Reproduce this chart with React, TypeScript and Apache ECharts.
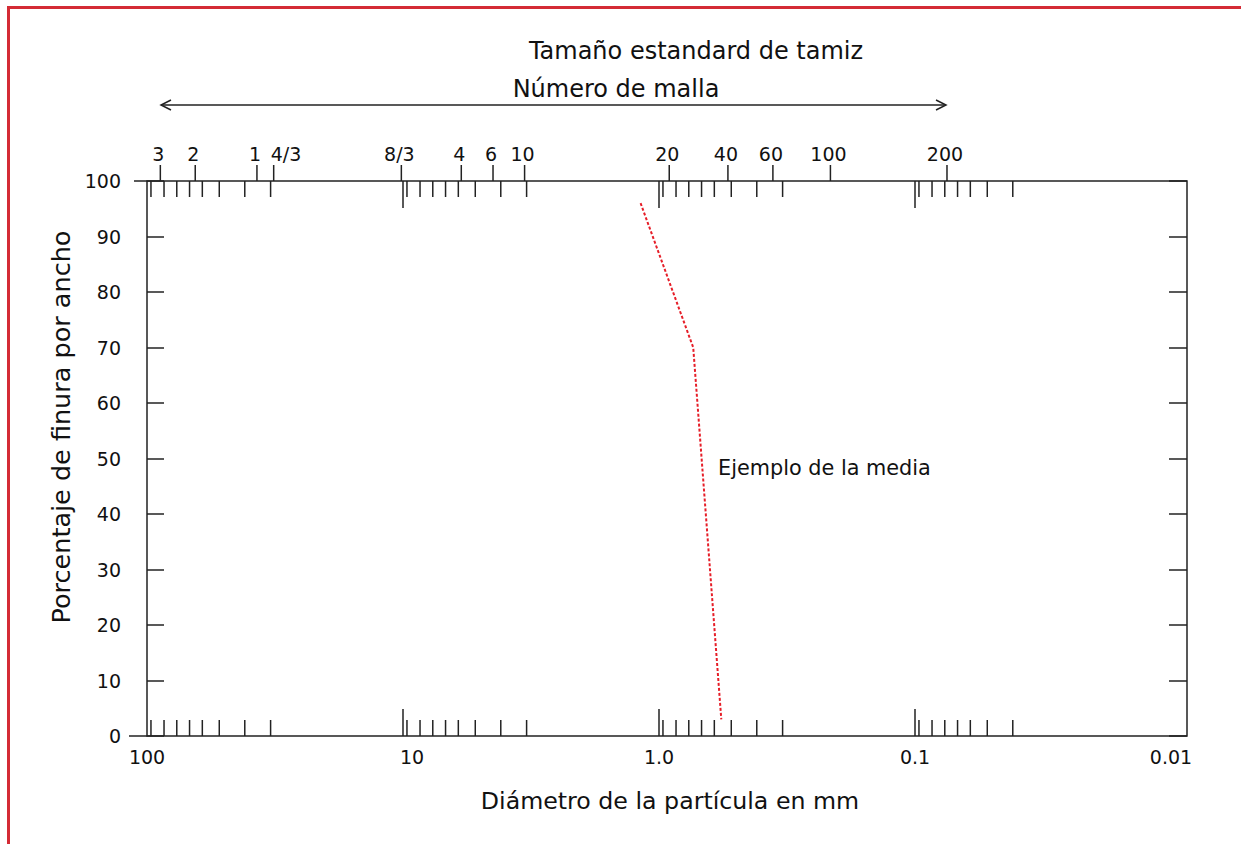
import React, { useEffect, useRef } from 'react';
import * as echarts from 'echarts';

// ---- data ----
const xMinDiameter = 0.00866; // right edge of the plotting frame (mm)
const xMaxDiameter = 100;     // left edge of the plotting frame (mm)

const decadeValues = [100, 10, 1, 0.1, 0.01];
const decadeLabels = ['100', '10', '1.0', '0.1', '0.01'];
const decadeMarks = [10, 1, 0.1];

const minorMarks = [
  96.5, 85.8, 76.5, 68.2, 60.8, 52.2, 41.5, 32.9,
  9.65, 8.58, 7.65, 6.82, 6.08, 5.22, 4.15, 3.29,
  0.965, 0.858, 0.765, 0.682, 0.608, 0.522, 0.415, 0.329,
  0.0965, 0.0858, 0.0765, 0.0682, 0.0608, 0.0522, 0.0415,
];

const meshSizes = [88.7, 64.8, 37.2, 32.0, 10.15, 5.92, 4.45, 3.35, 0.912, 0.538, 0.359, 0.214, 0.075];
const meshLabels = ['3', '2', '1', '4/3', '8/3', '4', '6', '10', '20', '40', '60', '100', '200'];

const exampleDiameter = [1.18, 0.735, 0.571];
const examplePercent = [96, 70, 3];

const cornerTickPercents = [0, 100];

const FONT = '"DejaVu Sans", Verdana, sans-serif';
const INK = '#222';
const TEXT = '#111';

function tickSeries(data: number[][], dy: number, name: string) {
  return {
    type: 'custom',
    name,
    silent: true,
    clip: false,
    z: 5,
    data,
    renderItem: (_p: any, api: any) => {
      const pt = api.coord([api.value(0), api.value(1)]);
      return {
        type: 'line',
        shape: { x1: pt[0], y1: pt[1], x2: pt[0], y2: pt[1] + dy },
        style: { stroke: INK, lineWidth: 1.5 },
      };
    },
  };
}

export default function App() {
  const ref = useRef<HTMLDivElement>(null);

  useEffect(() => {
    if (!ref.current) return;
    const chart = echarts.init(ref.current, null, { renderer: 'svg' });

    const option: any = {
      animation: false,
      backgroundColor: '#fff',
      grid: {
        left: 147,
        top: 181,
        width: 1040,
        height: 555,
        show: true,
        borderColor: INK,
        borderWidth: 1.5,
        backgroundColor: 'transparent',
        containLabel: false,
        outerBoundsMode: 'none',
      },
      xAxis: {
        type: 'log',
        logBase: 10,
        inverse: true,
        min: xMinDiameter,
        max: xMaxDiameter,
        axisLine: { show: false },
        axisTick: { show: false },
        axisLabel: { show: false },
        splitLine: { show: false },
      },
      yAxis: [
        {
          type: 'value',
          min: 0,
          max: 100,
          interval: 10,
          axisLine: { show: false },
          axisTick: { show: true, inside: true, length: 17, lineStyle: { color: INK, width: 1.5 } },
          axisLabel: { show: true, margin: 26, fontSize: 19, fontFamily: FONT, color: TEXT },
          splitLine: { show: false },
        },
        {
          type: 'value',
          position: 'right',
          min: 0,
          max: 100,
          interval: 10,
          axisLine: { show: false },
          axisTick: { show: true, inside: true, length: 18, lineStyle: { color: INK, width: 1.5 } },
          axisLabel: { show: false },
          splitLine: { show: false },
        },
      ],
      series: [
        tickSeries(minorMarks.map((v) => [v, 0]), -16, 'bottomMinor'),
        tickSeries(minorMarks.map((v) => [v, 100]), 16, 'topMinor'),
        tickSeries(decadeMarks.map((v) => [v, 0]), -27, 'bottomDecade'),
        tickSeries(decadeMarks.map((v) => [v, 100]), 27, 'topDecade'),
        tickSeries(meshSizes.map((v) => [v, 100]), -16, 'meshTicks'),
        {
          type: 'custom',
          name: 'cornerTicks',
          silent: true,
          clip: false,
          z: 5,
          data: cornerTickPercents.map((p) => [xMaxDiameter, p]),
          renderItem: (_p: any, api: any) => {
            const pt = api.coord([api.value(0), api.value(1)]);
            const len = api.value(1) === 0 ? 18 : 13;
            return {
              type: 'line',
              shape: { x1: pt[0] - len, y1: pt[1], x2: pt[0], y2: pt[1] },
              style: { stroke: INK, lineWidth: 1.5 },
            };
          },
        },
        {
          type: 'custom',
          name: 'meshLabels',
          silent: true,
          clip: false,
          z: 5,
          data: meshSizes.map((v, i) => ({ value: [v, 100], name: meshLabels[i] })),
          renderItem: (params: any, api: any) => {
            const pt = api.coord([api.value(0), api.value(1)]);
            const txt = meshLabels[params.dataIndex];
            const leftAligned = txt === '4/3';
            return {
              type: 'text',
              x: leftAligned ? pt[0] - 3 : pt[0] - 2,
              y: pt[1] - 27,
              style: {
                text: txt,
                fill: TEXT,
                fontSize: 19,
                fontFamily: FONT,
                align: leftAligned ? 'left' : 'center',
                verticalAlign: 'middle',
              },
            };
          },
        },
        {
          type: 'custom',
          name: 'decadeLabels',
          silent: true,
          clip: false,
          z: 5,
          data: decadeValues.map((v, i) => ({ value: [v, 0], name: decadeLabels[i] })),
          renderItem: (params: any, api: any) => {
            const pt = api.coord([api.value(0), api.value(1)]);
            const txt = decadeLabels[params.dataIndex];
            return {
              type: 'text',
              x: txt === '10' ? pt[0] + 9 : pt[0],
              y: pt[1] + 21,
              style: {
                text: txt,
                fill: TEXT,
                fontSize: 19,
                fontFamily: FONT,
                align: 'center',
                verticalAlign: 'middle',
              },
            };
          },
        },
        {
          type: 'line',
          name: 'Ejemplo de la media',
          data: exampleDiameter.map((d, i) => [d, examplePercent[i]]),
          symbol: 'none',
          z: 6,
          lineStyle: { color: '#e61e28', width: 2, type: [3, 2] },
        },
      ],
      graphic: [
        { type: 'line', shape: { x1: 8, y1: 7.5, x2: 1241, y2: 7.5 }, style: { stroke: '#d42b35', lineWidth: 3 } },
        { type: 'line', shape: { x1: 8.5, y1: 6, x2: 8.5, y2: 844 }, style: { stroke: '#d42b35', lineWidth: 3 } },
        {
          type: 'text', x: 696, y: 51,
          style: { text: 'Tamaño estandard de tamiz', fill: TEXT, fontSize: 24, fontFamily: FONT, align: 'center', verticalAlign: 'middle' },
        },
        {
          type: 'text', x: 616, y: 89,
          style: { text: 'Número de malla', fill: TEXT, fontSize: 24, fontFamily: FONT, align: 'center', verticalAlign: 'middle' },
        },
        { type: 'line', shape: { x1: 161, y1: 105, x2: 946, y2: 105 }, style: { stroke: INK, lineWidth: 1.5 } },
        { type: 'polyline', shape: { points: [[171, 100], [161, 105], [171, 110]] }, style: { stroke: INK, lineWidth: 1.5, fill: 'none' } },
        { type: 'polyline', shape: { points: [[936, 100], [946, 105], [936, 110]] }, style: { stroke: INK, lineWidth: 1.5, fill: 'none' } },
        {
          type: 'text', x: 718, y: 468,
          style: { text: 'Ejemplo de la media', fill: TEXT, fontSize: 20.8, fontFamily: FONT, align: 'left', verticalAlign: 'middle' },
        },
        {
          type: 'text', x: 670, y: 801,
          style: { text: 'Diámetro de la partícula en mm', fill: TEXT, fontSize: 23.7, fontFamily: FONT, align: 'center', verticalAlign: 'middle' },
        },
        {
          type: 'text', x: 61, y: 427, rotation: Math.PI / 2,
          style: { text: 'Porcentaje de finura por ancho', fill: TEXT, fontSize: 25.5, fontFamily: FONT, align: 'center', verticalAlign: 'middle' },
        },
      ],
    };

    chart.setOption(option);
    return () => chart.dispose();
  }, []);

  return <div ref={ref} style={{ position: 'absolute', left: 0, top: 0, width: 1241, height: 844 }} />;
}
